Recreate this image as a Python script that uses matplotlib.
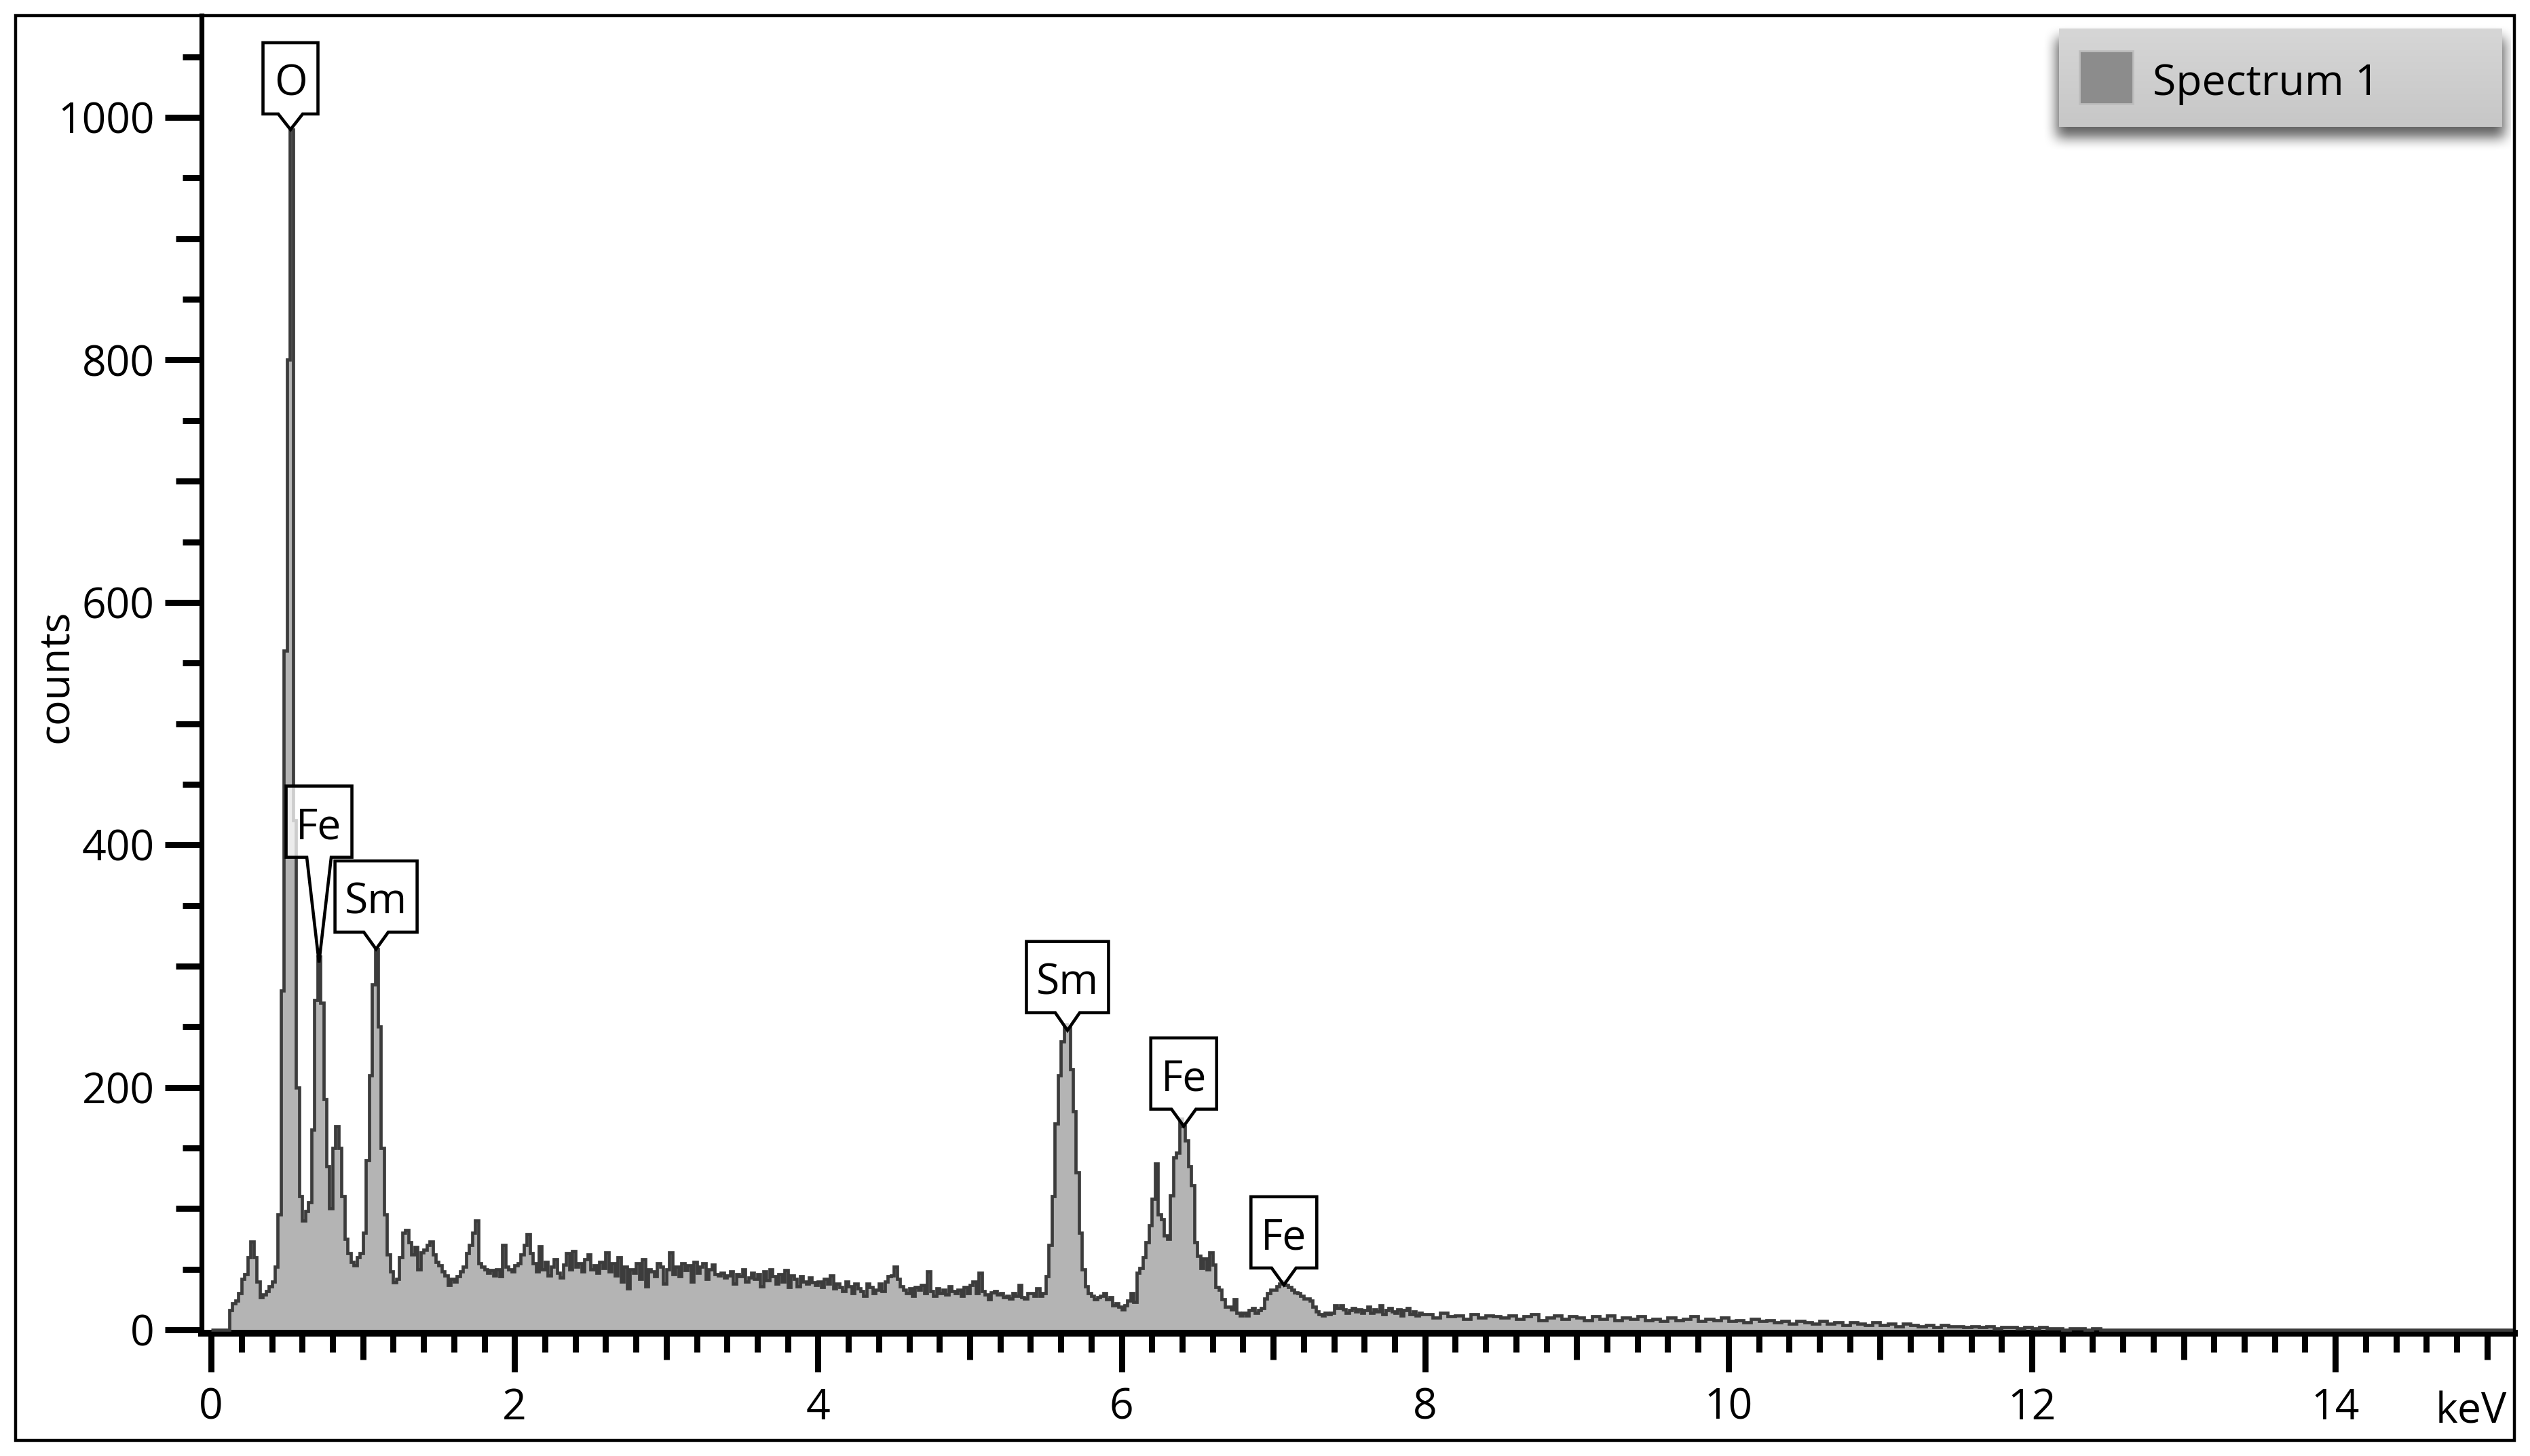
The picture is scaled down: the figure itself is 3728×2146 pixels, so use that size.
import numpy as np
import matplotlib as mpl
import matplotlib.pyplot as plt
from matplotlib import transforms
from matplotlib.patches import Polygon, Rectangle

mpl.rcParams['font.family'] = ['Open Sans', 'DejaVu Sans']
mpl.rcParams['font.size'] = 22.5

# counts per 20 eV channel, 0 - 8 keV
counts_low = [
    0, 0, 0, 0, 0, 0, 16, 22, 24, 30,
    42, 46, 60, 73, 60, 40, 27, 29, 32, 36,
    40, 52, 95, 280, 560, 800, 990, 420, 200, 110,
    90, 98, 105, 165, 272, 308, 270, 190, 135, 100,
    150, 168, 150, 110, 75, 63, 56, 53, 60, 63,
    80, 140, 210, 285, 314, 250, 150, 95, 62, 48,
    39, 42, 60, 80, 82, 72, 62, 68, 50, 64,
    66, 70, 73, 62, 56, 53, 48, 45, 37, 42,
    40, 44, 48, 52, 63, 70, 80, 90, 55, 52,
    50, 47, 49, 45, 50, 44, 70, 52, 50, 48,
    53, 55, 62, 70, 79, 63, 55, 48, 69, 50,
    56, 45, 52, 58, 47, 43, 54, 63, 50, 65,
    52, 55, 48, 58, 62, 50, 53, 47, 56, 51,
    64, 48, 55, 45, 60, 40, 52, 34, 50, 47,
    55, 42, 58, 36, 50, 48, 44, 55, 52, 38,
    50, 64, 46, 52, 44, 55, 49, 53, 40, 56,
    47, 52, 55, 42, 50, 54, 46, 45, 47, 43,
    45, 48, 38, 46, 44, 50, 40, 43, 47, 42,
    46, 36, 48, 41, 50, 44, 38, 46, 40, 49,
    35, 45, 42, 36, 44, 40, 38, 43, 39, 37,
    40, 35, 42, 38, 45, 34, 38, 35, 32, 40,
    36, 30, 38, 34, 32, 28, 38, 35, 30, 33,
    38, 32, 40, 44, 45, 52, 42, 36, 33, 30,
    34, 28, 35, 33, 37, 30, 48, 32, 28, 34,
    30, 33, 29, 36, 32, 30, 33, 28, 35, 30,
    37, 40, 30, 47, 32, 29, 25, 31, 32, 29,
    30, 27, 28, 26, 30, 28, 37, 27, 26, 30,
    30, 28, 34, 28, 30, 44, 70, 110, 170, 210,
    238, 252, 250, 215, 180, 130, 80, 50, 36, 30,
    28, 25, 27, 28, 30, 25, 27, 20, 22, 19,
    17, 20, 24, 30, 23, 47, 51, 60, 72, 86,
    108, 137, 95, 91, 78, 75, 111, 142, 146, 174,
    168, 156, 135, 119, 72, 61, 51, 59, 50, 64,
    54, 35, 33, 25, 19, 19, 17, 25, 14, 12,
    14, 12, 16, 18, 14, 16, 18, 26, 30, 33,
    33, 36, 38, 40, 37, 35, 33, 31, 30, 28,
    26, 26, 24, 19, 15, 13, 12, 14, 13, 14,
    20, 18, 20, 17, 14, 16, 18, 15, 17, 14,
    16, 19, 14, 17, 15, 20, 13, 16, 18, 15,
    14, 17, 12, 16, 18, 13, 15, 12, 14, 13,
]
# counts per 50 eV channel, 8 - 12.5 keV (nothing above)
counts_tail = [
    13, 10, 14, 11, 12, 9, 13, 10, 12, 11,
    10, 12, 9, 11, 13, 8, 10, 12, 9, 11,
    10, 8, 11, 9, 12, 8, 10, 9, 11, 8,
    9, 7, 10, 8, 9, 11, 7, 9, 8, 10,
    7, 8, 6, 9, 7, 8, 6, 7, 5, 7,
    6, 5, 7, 5, 6, 4, 6, 5, 4, 6,
    4, 5, 3, 5, 4, 3, 4, 2, 4, 3,
    3, 2, 3, 2, 3, 1, 2, 2, 1, 2,
    1, 2, 1, 1, 0, 1, 1, 0, 1, 0,
]
e_max = 15.2

peak_labels = ['O', 'Fe', 'Sm', 'Sm', 'Fe', 'Fe']
peak_kev = [0.523, 0.711, 1.087, 5.644, 6.41, 7.07]
peak_counts = [990, 303, 314, 247, 168, 37]

# callout look (pixels)
box_w = {'O': 81, 'Fe': 97, 'Sm': 121}
leader = [23, 155, 25, 26, 25, 25]

W, H = 3728, 2146
fig = plt.figure(figsize=(W / 200, H / 200), dpi=200)
ax = fig.add_axes([297 / W, 1 - 1965 / H, (3705 - 297) / W, (1965 - 23) / H])

edges = np.r_[np.arange(len(counts_low) + 1) * 0.02,
              8 + np.arange(1, len(counts_tail) + 1) * 0.05, e_max]
values = np.r_[counts_low, counts_tail, 0]
ax.stairs(values, edges, fill=True, color='#b4b4b4', baseline=0, zorder=2)
ax.stairs(values, edges, color='#3c3c3c', lw=1.7, baseline=0, zorder=3)

ax.set_xlim(-0.063, 15.18)
ax.set_ylim(-2.8, 1084)

for s in ['top', 'right']:
    ax.spines[s].set_visible(False)
ax.spines['left'].set_linewidth(2.6)
ax.spines['bottom'].set_linewidth(3.6)

xmaj = np.arange(0, 15, 2)
xmin_locs = [round(0.2 * k, 1) for k in range(0, 76) if k % 10 != 0]
ymaj = np.arange(0, 1001, 200)
ymin_locs = [v for v in range(50, 1051, 50) if v % 200 != 0]
ax.set_xticks(xmaj)
ax.set_xticks(xmin_locs, minor=True)
ax.set_yticks(ymaj)
ax.set_yticks(ymin_locs, minor=True)
ax.tick_params(axis='both', which='both', direction='out', width=3.2, color='black')
ax.tick_params(axis='x', which='major', length=20.5, pad=8)
ax.tick_params(axis='y', which='major', length=19.5, pad=5.5)
ax.tick_params(axis='both', which='minor', length=10)

for t, loc in zip(ax.xaxis.get_minor_ticks(len(xmin_locs)), xmin_locs):
    if abs(loc - round(loc)) < 1e-6:
        t.tick1line.set_markersize(14)
for t, loc in zip(ax.yaxis.get_minor_ticks(len(ymin_locs)), ymin_locs):
    if loc % 100 == 0:
        t.tick1line.set_markersize(13.7)


def callout(x, y, text, w, d):
    tr = transforms.Affine2D() + transforms.ScaledTranslation(x, y, ax.transData)
    hb = 105
    verts = [(0, 0), (-18, d), (-w / 2, d), (-w / 2, d + hb), (w / 2, d + hb), (w / 2, d), (18, d)]
    ax.add_patch(Polygon(verts, closed=True, transform=tr, fc=(1, 1, 1, 0.75), ec='black',
                         lw=1.65, joinstyle='miter', clip_on=False, zorder=6))
    ax.text(0, d + 27, text, transform=tr, ha='center', va='baseline', zorder=7)


for lab, ex, cy, d in zip(peak_labels, peak_kev, peak_counts, leader):
    callout(ex, cy, lab, box_w[lab], d)

fig.text(83 / W, 1 - 997 / H, 'counts', rotation=90, ha='center', va='center')
fig.text(3641 / W, 1 - 2097 / H, 'keV', ha='center', va='baseline')

# outer frame
fig.add_artist(Rectangle((23 / W, 1 - 2123 / H), (3705 - 23) / W, (2123 - 23) / H,
                         transform=fig.transFigure, fill=False, ec='black', lw=1.6))

# legend box with drop shadow
lx0, ly0, lw_, lh = 3000, 25, 700, 215
lax = fig.add_axes([lx0 / W, 1 - (ly0 + lh) / H, lw_ / W, lh / H])
lax.axis('off')
bx0, bx1, by0, by1 = 3034 - lx0, 3687 - lx0, 42 - ly0, 187 - ly0
mask = np.zeros((lh, lw_))
mask[by0 + 14:by1 + 16, bx0 - 4:bx1 + 4] = 1.0
k = np.ones(21) / 21
for _ in range(2):
    mask = np.apply_along_axis(lambda r: np.convolve(r, k, mode='same'), 1, mask)
    mask = np.apply_along_axis(lambda c: np.convolve(c, k, mode='same'), 0, mask)
img = np.zeros((lh, lw_, 4))
img[..., 3] = 0.62 * mask
grad = np.linspace(0.84, 0.78, by1 - by0)[:, None]
img[by0:by1, bx0:bx1, 0] = grad
img[by0:by1, bx0:bx1, 1] = grad
img[by0:by1, bx0:bx1, 2] = grad
img[by0:by1, bx0:bx1, 3] = 1.0
lax.imshow(img, extent=(0, lw_, lh, 0), aspect='auto', interpolation='bilinear')
lax.set_xlim(0, lw_)
lax.set_ylim(lh, 0)
lax.add_patch(Rectangle((3064 - lx0, 75 - ly0), 79, 78, fc='#8c8c8c', ec='#bdbdbd', lw=1))
lax.text(3172 - lx0, 140 - ly0, 'Spectrum 1', ha='left', va='baseline')

fig.savefig('out.png', dpi=200, facecolor='white')
